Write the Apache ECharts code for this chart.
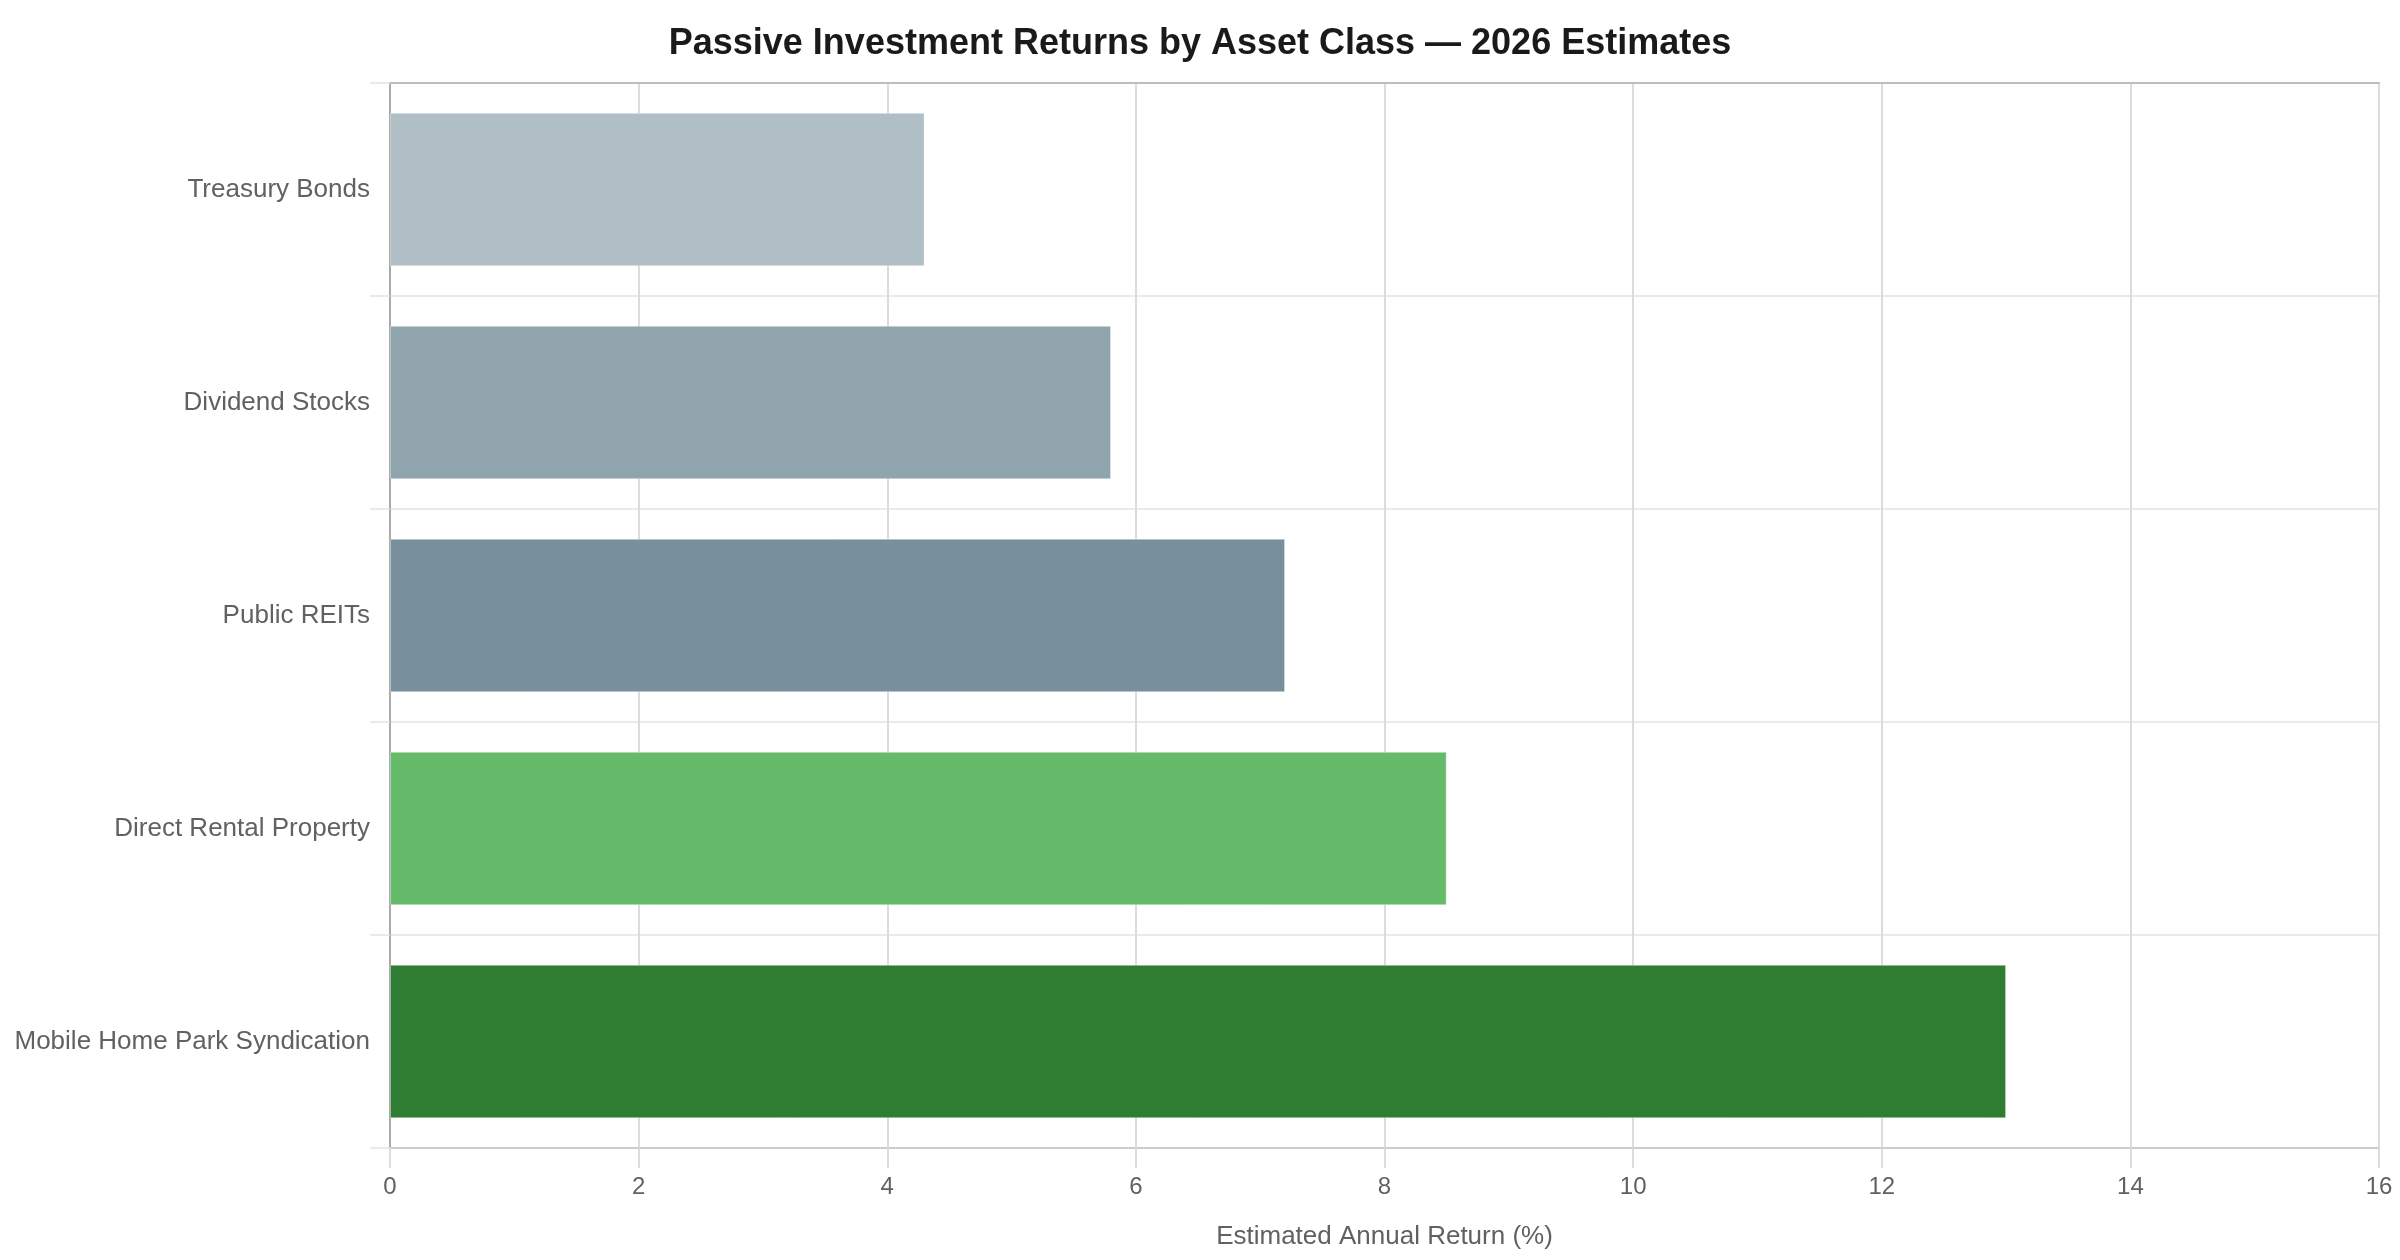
<!DOCTYPE html>
<html>
<head>
<meta charset="utf-8">
<title>Passive Investment Returns by Asset Class</title>
<script src="https://cdn.jsdelivr.net/npm/echarts@6/dist/echarts.min.js"></script>
<style>
  html, body { margin: 0; padding: 0; background: #fff; }
  #chart { width: 2400px; height: 1260px; }
</style>
</head>
<body>
<div id="chart"></div>
<script>
// 数据
var categories = ['Treasury Bonds', 'Dividend Stocks', 'Public REITs', 'Direct Rental Property', 'Mobile Home Park Syndication'];
var returns = [4.3, 5.8, 7.2, 8.5, 13.0];
var barColors = ['#b0bec5', '#90a4ae', '#78909c', '#66bb6a', '#2e7d32'];
var xTicks = { min: 0, max: 16, interval: 2 };

var chart = echarts.init(document.getElementById('chart'));

var font = '"Liberation Sans", Arial, sans-serif';

var option = {
    animation: false,
    backgroundColor: '#ffffff',
    title: {
        text: 'Passive Investment Returns by Asset Class \u2014 2026 Estimates',
        left: 'center',
        top: 21,
        textStyle: {
            fontFamily: font,
            fontSize: 36,
            fontWeight: 'bold',
            color: '#1a1a1a'
        }
    },
    grid: {
        left: 390,
        right: 21,
        top: 83,
        bottom: 112,
        containLabel: false
    },
    xAxis: [
        {
            type: 'value',
            min: xTicks.min,
            max: xTicks.max,
            interval: xTicks.interval,
            name: 'Estimated Annual Return (%)',
            nameLocation: 'middle',
            nameGap: 76,
            nameTextStyle: { fontFamily: font, fontSize: 26, color: '#616161' },
            axisLine: { show: true, lineStyle: { color: '#cccccc', width: 2 } },
            axisTick: { show: true, length: 20, lineStyle: { color: '#dddddd', width: 2 } },
            axisLabel: { margin: 27, fontFamily: font, fontSize: 24, color: '#616161' },
            splitLine: { show: true, lineStyle: { color: '#dcdcdc', width: 2 } }
        },
        {
            // top border line
            type: 'value',
            position: 'top',
            min: xTicks.min,
            max: xTicks.max,
            interval: xTicks.interval,
            axisLine: { show: true, lineStyle: { color: '#bdbdbd', width: 2 } },
            axisTick: { show: false },
            axisLabel: { show: false },
            splitLine: { show: false }
        }
    ],
    yAxis: {
        type: 'category',
        inverse: true,
        data: categories,
        axisLine: { show: true, lineStyle: { color: '#aaaaaa', width: 2 } },
        axisTick: { show: true, length: 20, lineStyle: { color: '#e3e3e3', width: 1.5 } },
        axisLabel: { margin: 20, padding: [6, 0, 0, 0], fontFamily: font, fontSize: 26, color: '#616161' },
        splitLine: { show: true, lineStyle: { color: '#e3e3e3', width: 1.5 } }
    },
    series: [
        {
            type: 'bar',
            xAxisIndex: 0,
            barCategoryGap: '28%',
            data: returns.map(function (v, i) {
                return { value: v, itemStyle: { color: barColors[i] } };
            }),
            itemStyle: {
                borderColor: 'rgba(255,255,255,0.35)',
                borderWidth: 1
            }
        }
    ]
};

chart.setOption(option);

window.addEventListener('resize', function () {
    setTimeout(function () {
        chart.resize();
    }, 100);
});
</script>
</body>
</html>
